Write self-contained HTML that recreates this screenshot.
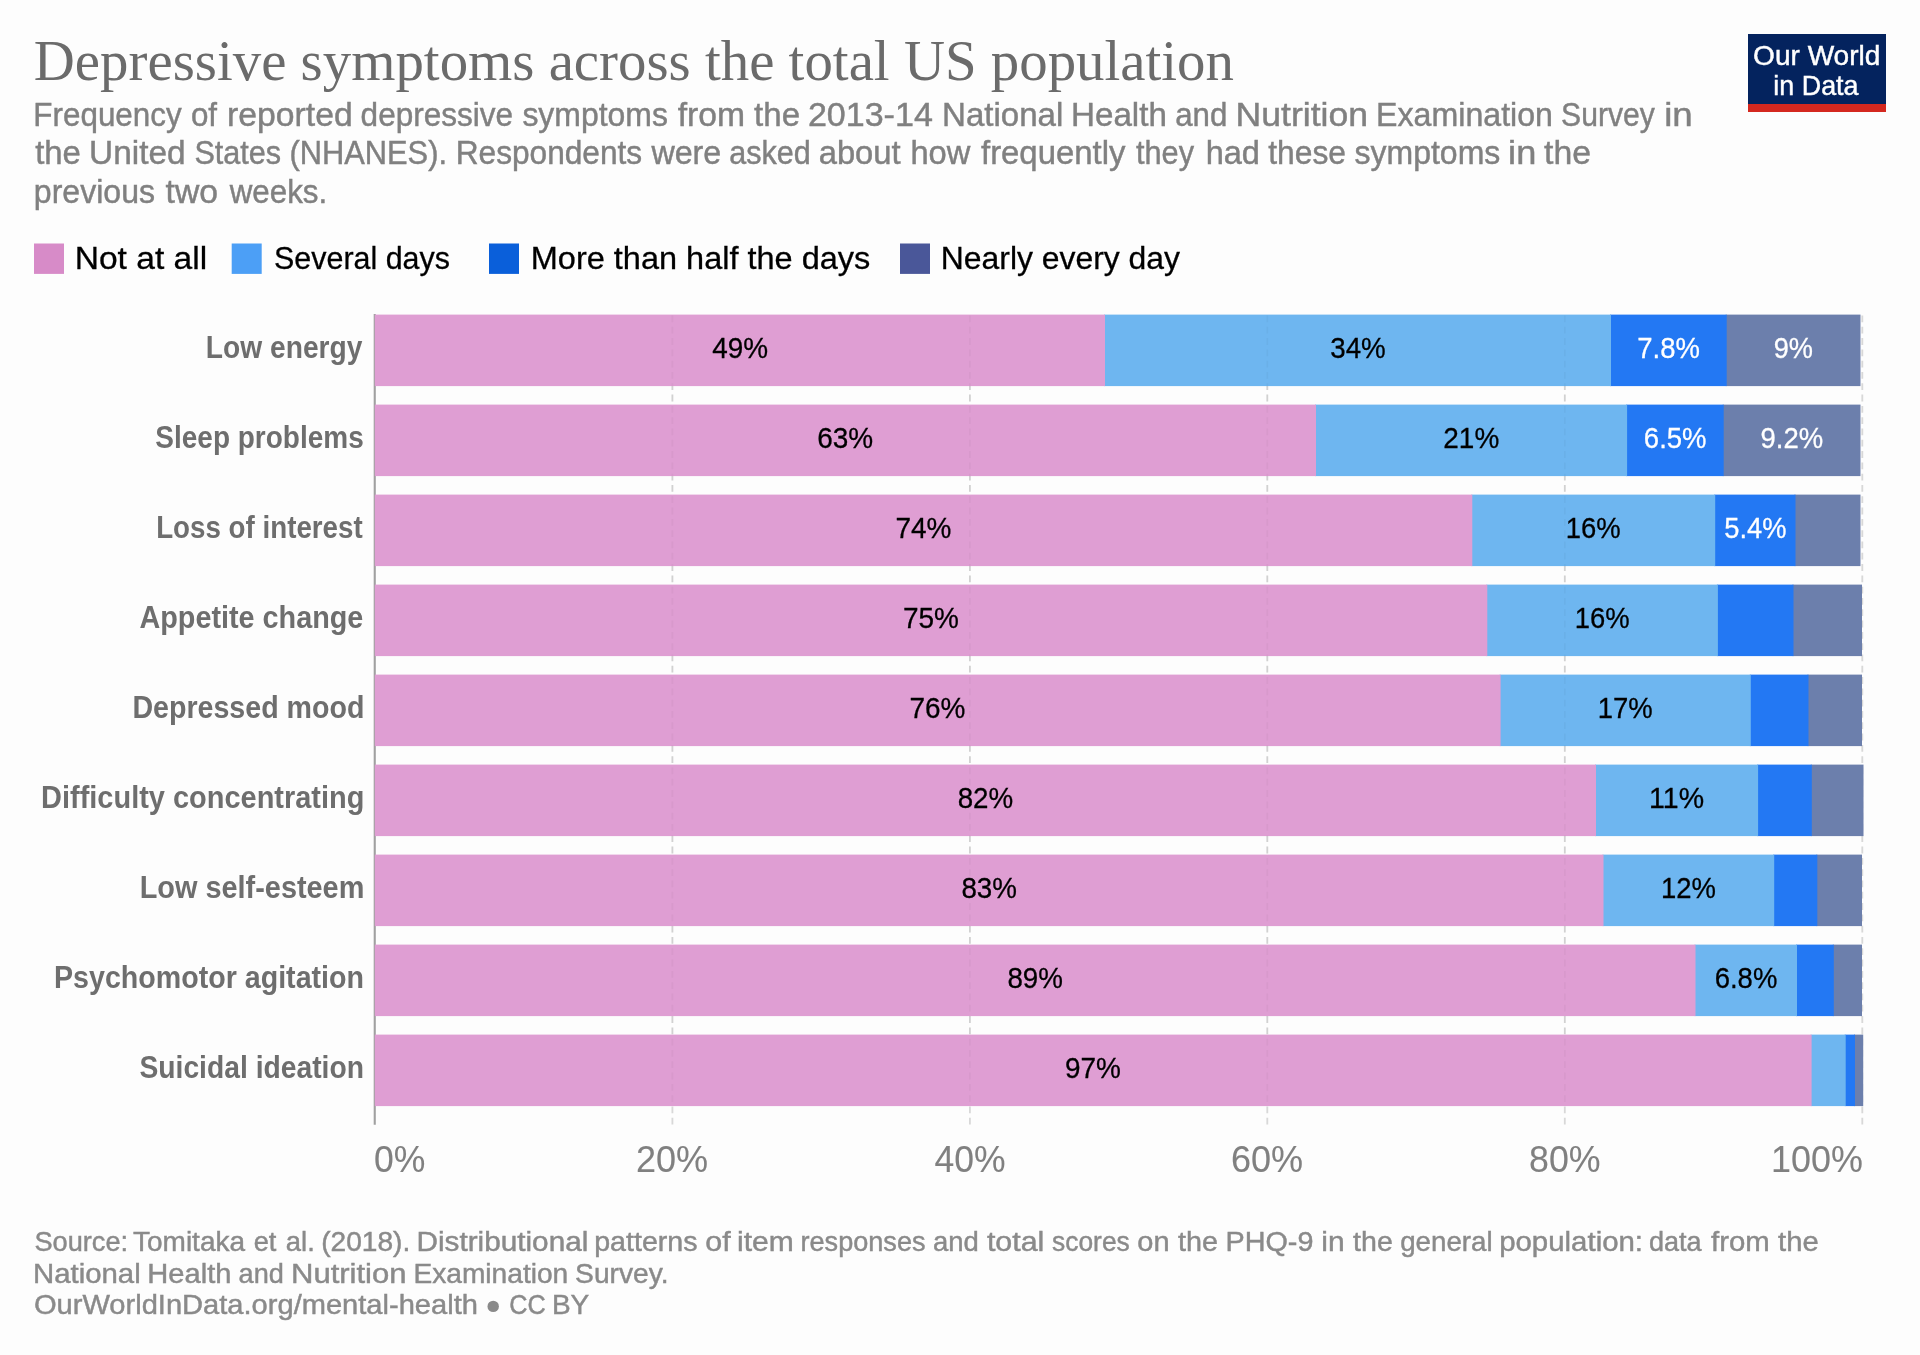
<!DOCTYPE html>
<html><head><meta charset="utf-8"><title>Depressive symptoms across the total US population</title>
<style>
html,body{margin:0;padding:0;background:#fdfdfd;}
body{width:1920px;height:1355px;overflow:hidden;font-family:"Liberation Sans",sans-serif;}
svg{display:block;will-change:transform;}
text{font-family:"Liberation Sans",sans-serif;}
.ttl{font-family:"Liberation Serif",serif;}
</style></head><body>
<svg width="1920" height="1355" viewBox="0 0 1920 1355">
<rect x="0" y="0" width="1920" height="1355" fill="#fdfdfd"/>
<rect x="1748" y="34" width="138" height="78" fill="#04235e"/>
<rect x="1748" y="104" width="138" height="8" fill="#d4281f"/>
<rect x="34" y="243.5" width="30" height="30.4" fill="#d78bc8"/>
<rect x="231.7" y="243.5" width="30" height="30.4" fill="#4c9ff6"/>
<rect x="489.0" y="243.5" width="30" height="30.4" fill="#0a5fda"/>
<rect x="900.0" y="243.5" width="30" height="30.4" fill="#4a5799"/>
<line x1="672.4" y1="315.5" x2="672.4" y2="1124.5" stroke="#d8d8d8" stroke-width="1.8" stroke-dasharray="6.78,4.52"/>
<line x1="969.9" y1="315.5" x2="969.9" y2="1124.5" stroke="#d8d8d8" stroke-width="1.8" stroke-dasharray="6.78,4.52"/>
<line x1="1267.3" y1="315.5" x2="1267.3" y2="1124.5" stroke="#d8d8d8" stroke-width="1.8" stroke-dasharray="6.78,4.52"/>
<line x1="1564.8" y1="315.5" x2="1564.8" y2="1124.5" stroke="#d8d8d8" stroke-width="1.8" stroke-dasharray="6.78,4.52"/>
<line x1="1862.3" y1="315.5" x2="1862.3" y2="1124.5" stroke="#d8d8d8" stroke-width="1.8" stroke-dasharray="6.78,4.52"/>
<line x1="374.75" y1="314" x2="374.75" y2="1124.7" stroke="#a0a0a0" stroke-width="2.1"/>
<rect x="1725.7" y="314.6" width="134.8" height="71.5" fill="#6c7fac"/>
<rect x="1610.0" y="314.6" width="116.7" height="71.5" fill="#2378f3"/>
<rect x="1104.0" y="314.6" width="507.0" height="71.5" fill="#6eb6f0"/>
<rect x="374.8" y="314.6" width="730.2" height="71.5" fill="#df9ed3"/>
<rect x="1722.7" y="404.6" width="137.8" height="71.5" fill="#6c7fac"/>
<rect x="1626.1" y="404.6" width="97.6" height="71.5" fill="#2378f3"/>
<rect x="1315.0" y="404.6" width="312.1" height="71.5" fill="#6eb6f0"/>
<rect x="374.8" y="404.6" width="941.2" height="71.5" fill="#df9ed3"/>
<rect x="1794.5" y="494.6" width="66.0" height="71.5" fill="#6c7fac"/>
<rect x="1714.2" y="494.6" width="81.3" height="71.5" fill="#2378f3"/>
<rect x="1471.3" y="494.6" width="243.9" height="71.5" fill="#6eb6f0"/>
<rect x="374.8" y="494.6" width="1097.5" height="71.5" fill="#df9ed3"/>
<rect x="1792.5" y="584.6" width="69.5" height="71.5" fill="#6c7fac"/>
<rect x="1716.9" y="584.6" width="76.6" height="71.5" fill="#2378f3"/>
<rect x="1486.3" y="584.6" width="231.6" height="71.5" fill="#6eb6f0"/>
<rect x="374.8" y="584.6" width="1112.5" height="71.5" fill="#df9ed3"/>
<rect x="1807.5" y="674.6" width="54.5" height="71.5" fill="#6c7fac"/>
<rect x="1749.8" y="674.6" width="58.7" height="71.5" fill="#2378f3"/>
<rect x="1499.6" y="674.6" width="251.2" height="71.5" fill="#6eb6f0"/>
<rect x="374.8" y="674.6" width="1125.8" height="71.5" fill="#df9ed3"/>
<rect x="1810.8" y="764.6" width="52.7" height="71.5" fill="#6c7fac"/>
<rect x="1757.1" y="764.6" width="54.7" height="71.5" fill="#2378f3"/>
<rect x="1595.0" y="764.6" width="163.1" height="71.5" fill="#6eb6f0"/>
<rect x="374.8" y="764.6" width="1221.2" height="71.5" fill="#df9ed3"/>
<rect x="1816.3" y="854.6" width="45.7" height="71.5" fill="#6c7fac"/>
<rect x="1773.2" y="854.6" width="44.1" height="71.5" fill="#2378f3"/>
<rect x="1602.5" y="854.6" width="171.7" height="71.5" fill="#6eb6f0"/>
<rect x="374.8" y="854.6" width="1228.7" height="71.5" fill="#df9ed3"/>
<rect x="1832.8" y="944.6" width="29.2" height="71.5" fill="#6c7fac"/>
<rect x="1796.0" y="944.6" width="37.8" height="71.5" fill="#2378f3"/>
<rect x="1694.5" y="944.6" width="102.5" height="71.5" fill="#6eb6f0"/>
<rect x="374.8" y="944.6" width="1320.7" height="71.5" fill="#df9ed3"/>
<rect x="1854.0" y="1034.6" width="9.2" height="71.5" fill="#6c7fac"/>
<rect x="1844.7" y="1034.6" width="10.3" height="71.5" fill="#2378f3"/>
<rect x="1810.6" y="1034.6" width="35.1" height="71.5" fill="#6eb6f0"/>
<rect x="374.8" y="1034.6" width="1436.8" height="71.5" fill="#df9ed3"/>
<line x1="672.4" y1="315.5" x2="672.4" y2="1106" stroke="#000000" stroke-opacity="0.03" stroke-width="1.8" stroke-dasharray="6.78,4.52"/>
<line x1="969.9" y1="315.5" x2="969.9" y2="1106" stroke="#000000" stroke-opacity="0.03" stroke-width="1.8" stroke-dasharray="6.78,4.52"/>
<line x1="1267.3" y1="315.5" x2="1267.3" y2="1106" stroke="#000000" stroke-opacity="0.03" stroke-width="1.8" stroke-dasharray="6.78,4.52"/>
<line x1="1564.8" y1="315.5" x2="1564.8" y2="1106" stroke="#000000" stroke-opacity="0.03" stroke-width="1.8" stroke-dasharray="6.78,4.52"/>
<circle cx="493.2" cy="1306.4" r="5.7" fill="#8a8a8a"/>
<text x="33.81" y="79.6" font-size="56.4" fill="#6b6b6b" class="ttl" textLength="1200.19" lengthAdjust="spacingAndGlyphs">Depressive symptoms across the total US population</text>
<text x="33.35" y="125.8" font-size="32.8" fill="#808080" stroke="#808080" stroke-width="0.45" textLength="148.35" lengthAdjust="spacingAndGlyphs">Frequency</text>
<text x="190.92" y="125.8" font-size="32.8" fill="#808080" stroke="#808080" stroke-width="0.45" textLength="26.17" lengthAdjust="spacingAndGlyphs">of</text>
<text x="227.09" y="125.8" font-size="32.8" fill="#808080" stroke="#808080" stroke-width="0.45" textLength="125.60" lengthAdjust="spacingAndGlyphs">reported</text>
<text x="360.61" y="125.8" font-size="32.8" fill="#808080" stroke="#808080" stroke-width="0.45" textLength="152.46" lengthAdjust="spacingAndGlyphs">depressive</text>
<text x="522.40" y="125.8" font-size="32.8" fill="#808080" stroke="#808080" stroke-width="0.45" textLength="145.50" lengthAdjust="spacingAndGlyphs">symptoms</text>
<text x="677.70" y="125.8" font-size="32.8" fill="#808080" stroke="#808080" stroke-width="0.45" textLength="67.34" lengthAdjust="spacingAndGlyphs">from</text>
<text x="754.10" y="125.8" font-size="32.8" fill="#808080" stroke="#808080" stroke-width="0.45" textLength="45.94" lengthAdjust="spacingAndGlyphs">the</text>
<text x="807.90" y="125.8" font-size="32.8" fill="#808080" stroke="#808080" stroke-width="0.45" textLength="124.94" lengthAdjust="spacingAndGlyphs">2013-14</text>
<text x="942.02" y="125.8" font-size="32.8" fill="#808080" stroke="#808080" stroke-width="0.45" textLength="121.36" lengthAdjust="spacingAndGlyphs">National</text>
<text x="1071.01" y="125.8" font-size="32.8" fill="#808080" stroke="#808080" stroke-width="0.45" textLength="95.85" lengthAdjust="spacingAndGlyphs">Health</text>
<text x="1175.22" y="125.8" font-size="32.8" fill="#808080" stroke="#808080" stroke-width="0.45" textLength="52.13" lengthAdjust="spacingAndGlyphs">and</text>
<text x="1235.52" y="125.8" font-size="32.8" fill="#808080" stroke="#808080" stroke-width="0.45" textLength="132.48" lengthAdjust="spacingAndGlyphs">Nutrition</text>
<text x="1376.09" y="125.8" font-size="32.8" fill="#808080" stroke="#808080" stroke-width="0.45" textLength="176.92" lengthAdjust="spacingAndGlyphs">Examination</text>
<text x="1561.06" y="125.8" font-size="32.8" fill="#808080" stroke="#808080" stroke-width="0.45" textLength="93.74" lengthAdjust="spacingAndGlyphs">Survey</text>
<text x="1664.21" y="125.8" font-size="32.8" fill="#808080" stroke="#808080" stroke-width="0.45" textLength="28.55" lengthAdjust="spacingAndGlyphs">in</text>
<text x="35.20" y="164.2" font-size="32.8" fill="#808080" stroke="#808080" stroke-width="0.45" textLength="45.73" lengthAdjust="spacingAndGlyphs">the</text>
<text x="89.11" y="164.2" font-size="32.8" fill="#808080" stroke="#808080" stroke-width="0.45" textLength="96.46" lengthAdjust="spacingAndGlyphs">United</text>
<text x="194.44" y="164.2" font-size="32.8" fill="#808080" stroke="#808080" stroke-width="0.45" textLength="86.71" lengthAdjust="spacingAndGlyphs">States</text>
<text x="289.56" y="164.2" font-size="32.8" fill="#808080" stroke="#808080" stroke-width="0.45" textLength="157.43" lengthAdjust="spacingAndGlyphs">(NHANES).</text>
<text x="455.73" y="164.2" font-size="32.8" fill="#808080" stroke="#808080" stroke-width="0.45" textLength="186.46" lengthAdjust="spacingAndGlyphs">Respondents</text>
<text x="651.40" y="164.2" font-size="32.8" fill="#808080" stroke="#808080" stroke-width="0.45" textLength="69.90" lengthAdjust="spacingAndGlyphs">were</text>
<text x="729.25" y="164.2" font-size="32.8" fill="#808080" stroke="#808080" stroke-width="0.45" textLength="81.47" lengthAdjust="spacingAndGlyphs">asked</text>
<text x="818.68" y="164.2" font-size="32.8" fill="#808080" stroke="#808080" stroke-width="0.45" textLength="82.01" lengthAdjust="spacingAndGlyphs">about</text>
<text x="910.46" y="164.2" font-size="32.8" fill="#808080" stroke="#808080" stroke-width="0.45" textLength="59.94" lengthAdjust="spacingAndGlyphs">how</text>
<text x="981.00" y="164.2" font-size="32.8" fill="#808080" stroke="#808080" stroke-width="0.45" textLength="144.40" lengthAdjust="spacingAndGlyphs">frequently</text>
<text x="1136.00" y="164.2" font-size="32.8" fill="#808080" stroke="#808080" stroke-width="0.45" textLength="58.00" lengthAdjust="spacingAndGlyphs">they</text>
<text x="1205.67" y="164.2" font-size="32.8" fill="#808080" stroke="#808080" stroke-width="0.45" textLength="54.26" lengthAdjust="spacingAndGlyphs">had</text>
<text x="1268.30" y="164.2" font-size="32.8" fill="#808080" stroke="#808080" stroke-width="0.45" textLength="77.69" lengthAdjust="spacingAndGlyphs">these</text>
<text x="1354.50" y="164.2" font-size="32.8" fill="#808080" stroke="#808080" stroke-width="0.45" textLength="145.80" lengthAdjust="spacingAndGlyphs">symptoms</text>
<text x="1508.14" y="164.2" font-size="32.8" fill="#808080" stroke="#808080" stroke-width="0.45" textLength="28.20" lengthAdjust="spacingAndGlyphs">in</text>
<text x="1544.00" y="164.2" font-size="32.8" fill="#808080" stroke="#808080" stroke-width="0.45" textLength="46.97" lengthAdjust="spacingAndGlyphs">the</text>
<text x="33.80" y="203.3" font-size="32.8" fill="#808080" stroke="#808080" stroke-width="0.45" textLength="121.21" lengthAdjust="spacingAndGlyphs">previous</text>
<text x="165.60" y="203.3" font-size="32.8" fill="#808080" stroke="#808080" stroke-width="0.45" textLength="52.47" lengthAdjust="spacingAndGlyphs">two</text>
<text x="229.69" y="203.3" font-size="32.8" fill="#808080" stroke="#808080" stroke-width="0.45" textLength="97.54" lengthAdjust="spacingAndGlyphs">weeks.</text>
<text x="1753.09" y="65.3" font-size="28.5" fill="#ffffff" stroke="#ffffff" stroke-width="0.45" textLength="127.29" lengthAdjust="spacingAndGlyphs">Our World</text>
<text x="1773.32" y="94.5" font-size="28.5" fill="#ffffff" stroke="#ffffff" stroke-width="0.45" textLength="85.21" lengthAdjust="spacingAndGlyphs">in Data</text>
<text x="74.68" y="268.8" font-size="31.9" fill="#000000" stroke="#000000" stroke-width="0.3" textLength="132.54" lengthAdjust="spacingAndGlyphs">Not at all</text>
<text x="274.05" y="268.8" font-size="31.9" fill="#000000" stroke="#000000" stroke-width="0.3" textLength="175.90" lengthAdjust="spacingAndGlyphs">Several days</text>
<text x="530.76" y="268.8" font-size="31.9" fill="#000000" stroke="#000000" stroke-width="0.3" textLength="339.55" lengthAdjust="spacingAndGlyphs">More than half the days</text>
<text x="940.81" y="268.8" font-size="31.9" fill="#000000" stroke="#000000" stroke-width="0.3" textLength="239.19" lengthAdjust="spacingAndGlyphs">Nearly every day</text>
<text x="205.84" y="357.8" font-size="31" fill="#6e6e6e" font-weight="bold" textLength="156.58" lengthAdjust="spacingAndGlyphs">Low energy</text>
<text x="712.21" y="357.7" font-size="29.8" fill="#000000" stroke="#000000" stroke-width="0.3" textLength="55.87" lengthAdjust="spacingAndGlyphs">49%</text>
<text x="1330.23" y="357.7" font-size="29.8" fill="#000000" stroke="#000000" stroke-width="0.3" textLength="55.49" lengthAdjust="spacingAndGlyphs">34%</text>
<text x="1637.31" y="357.7" font-size="29.8" fill="#ffffff" stroke="#ffffff" stroke-width="0.3" textLength="62.61" lengthAdjust="spacingAndGlyphs">7.8%</text>
<text x="1773.73" y="357.7" font-size="29.8" fill="#ffffff" stroke="#ffffff" stroke-width="0.3" textLength="39.28" lengthAdjust="spacingAndGlyphs">9%</text>
<text x="155.36" y="447.8" font-size="31" fill="#6e6e6e" font-weight="bold" textLength="208.37" lengthAdjust="spacingAndGlyphs">Sleep problems</text>
<text x="817.24" y="447.7" font-size="29.8" fill="#000000" stroke="#000000" stroke-width="0.3" textLength="55.94" lengthAdjust="spacingAndGlyphs">63%</text>
<text x="1443.34" y="447.7" font-size="29.8" fill="#000000" stroke="#000000" stroke-width="0.3" textLength="55.94" lengthAdjust="spacingAndGlyphs">21%</text>
<text x="1643.86" y="447.7" font-size="29.8" fill="#ffffff" stroke="#ffffff" stroke-width="0.3" textLength="62.61" lengthAdjust="spacingAndGlyphs">6.5%</text>
<text x="1760.56" y="447.7" font-size="29.8" fill="#ffffff" stroke="#ffffff" stroke-width="0.3" textLength="62.61" lengthAdjust="spacingAndGlyphs">9.2%</text>
<text x="156.17" y="537.8" font-size="31" fill="#6e6e6e" font-weight="bold" textLength="206.57" lengthAdjust="spacingAndGlyphs">Loss of interest</text>
<text x="895.39" y="537.7" font-size="29.8" fill="#000000" stroke="#000000" stroke-width="0.3" textLength="55.94" lengthAdjust="spacingAndGlyphs">74%</text>
<text x="1565.83" y="537.7" font-size="29.8" fill="#000000" stroke="#000000" stroke-width="0.3" textLength="54.93" lengthAdjust="spacingAndGlyphs">16%</text>
<text x="1724.25" y="537.7" font-size="29.8" fill="#ffffff" stroke="#ffffff" stroke-width="0.3" textLength="62.16" lengthAdjust="spacingAndGlyphs">5.4%</text>
<text x="139.45" y="627.8" font-size="31" fill="#6e6e6e" font-weight="bold" textLength="223.87" lengthAdjust="spacingAndGlyphs">Appetite change</text>
<text x="902.89" y="627.7" font-size="29.8" fill="#000000" stroke="#000000" stroke-width="0.3" textLength="55.94" lengthAdjust="spacingAndGlyphs">75%</text>
<text x="1574.68" y="627.7" font-size="29.8" fill="#000000" stroke="#000000" stroke-width="0.3" textLength="54.93" lengthAdjust="spacingAndGlyphs">16%</text>
<text x="132.41" y="717.8" font-size="31" fill="#6e6e6e" font-weight="bold" textLength="232.02" lengthAdjust="spacingAndGlyphs">Depressed mood</text>
<text x="909.54" y="717.7" font-size="29.8" fill="#000000" stroke="#000000" stroke-width="0.3" textLength="55.94" lengthAdjust="spacingAndGlyphs">76%</text>
<text x="1597.78" y="717.7" font-size="29.8" fill="#000000" stroke="#000000" stroke-width="0.3" textLength="54.93" lengthAdjust="spacingAndGlyphs">17%</text>
<text x="41.09" y="807.8" font-size="31" fill="#6e6e6e" font-weight="bold" textLength="323.36" lengthAdjust="spacingAndGlyphs">Difficulty concentrating</text>
<text x="957.68" y="807.7" font-size="29.8" fill="#000000" stroke="#000000" stroke-width="0.3" textLength="55.49" lengthAdjust="spacingAndGlyphs">82%</text>
<text x="1649.07" y="807.7" font-size="29.8" fill="#000000" stroke="#000000" stroke-width="0.3" textLength="55.04" lengthAdjust="spacingAndGlyphs">11%</text>
<text x="139.70" y="897.8" font-size="31" fill="#6e6e6e" font-weight="bold" textLength="224.67" lengthAdjust="spacingAndGlyphs">Low self-esteem</text>
<text x="961.43" y="897.7" font-size="29.8" fill="#000000" stroke="#000000" stroke-width="0.3" textLength="55.49" lengthAdjust="spacingAndGlyphs">83%</text>
<text x="1660.93" y="897.7" font-size="29.8" fill="#000000" stroke="#000000" stroke-width="0.3" textLength="54.93" lengthAdjust="spacingAndGlyphs">12%</text>
<text x="54.01" y="987.8" font-size="31" fill="#6e6e6e" font-weight="bold" textLength="309.97" lengthAdjust="spacingAndGlyphs">Psychomotor agitation</text>
<text x="1007.43" y="987.7" font-size="29.8" fill="#000000" stroke="#000000" stroke-width="0.3" textLength="55.49" lengthAdjust="spacingAndGlyphs">89%</text>
<text x="1714.71" y="987.7" font-size="29.8" fill="#000000" stroke="#000000" stroke-width="0.3" textLength="62.61" lengthAdjust="spacingAndGlyphs">6.8%</text>
<text x="139.46" y="1077.8" font-size="31" fill="#6e6e6e" font-weight="bold" textLength="224.51" lengthAdjust="spacingAndGlyphs">Suicidal ideation</text>
<text x="1065.04" y="1077.7" font-size="29.8" fill="#000000" stroke="#000000" stroke-width="0.3" textLength="55.94" lengthAdjust="spacingAndGlyphs">97%</text>
<text x="373.89" y="1172.3" font-size="37.5" fill="#808080" stroke="#808080" stroke-width="0.1" textLength="51.37" lengthAdjust="spacingAndGlyphs">0%</text>
<text x="635.99" y="1172.3" font-size="37.5" fill="#808080" stroke="#808080" stroke-width="0.1" textLength="72.16" lengthAdjust="spacingAndGlyphs">20%</text>
<text x="934.61" y="1172.3" font-size="37.5" fill="#808080" stroke="#808080" stroke-width="0.1" textLength="71.01" lengthAdjust="spacingAndGlyphs">40%</text>
<text x="1230.95" y="1172.3" font-size="37.5" fill="#808080" stroke="#808080" stroke-width="0.1" textLength="72.16" lengthAdjust="spacingAndGlyphs">60%</text>
<text x="1529.00" y="1172.3" font-size="37.5" fill="#808080" stroke="#808080" stroke-width="0.1" textLength="71.58" lengthAdjust="spacingAndGlyphs">80%</text>
<text x="1771.06" y="1172.3" font-size="37.5" fill="#808080" stroke="#808080" stroke-width="0.1" textLength="91.81" lengthAdjust="spacingAndGlyphs">100%</text>
<text x="34.45" y="1251.3" font-size="27.5" fill="#8a8a8a" stroke="#8a8a8a" stroke-width="0.45" textLength="93.71" lengthAdjust="spacingAndGlyphs">Source:</text>
<text x="133.06" y="1251.3" font-size="27.5" fill="#8a8a8a" stroke="#8a8a8a" stroke-width="0.45" textLength="111.96" lengthAdjust="spacingAndGlyphs">Tomitaka</text>
<text x="253.75" y="1251.3" font-size="27.5" fill="#8a8a8a" stroke="#8a8a8a" stroke-width="0.45" textLength="22.66" lengthAdjust="spacingAndGlyphs">et</text>
<text x="285.84" y="1251.3" font-size="27.5" fill="#8a8a8a" stroke="#8a8a8a" stroke-width="0.45" textLength="28.93" lengthAdjust="spacingAndGlyphs">al.</text>
<text x="321.18" y="1251.3" font-size="27.5" fill="#8a8a8a" stroke="#8a8a8a" stroke-width="0.45" textLength="89.06" lengthAdjust="spacingAndGlyphs">(2018).</text>
<text x="416.48" y="1251.3" font-size="27.5" fill="#8a8a8a" stroke="#8a8a8a" stroke-width="0.45" textLength="171.88" lengthAdjust="spacingAndGlyphs">Distributional</text>
<text x="594.21" y="1251.3" font-size="27.5" fill="#8a8a8a" stroke="#8a8a8a" stroke-width="0.45" textLength="103.38" lengthAdjust="spacingAndGlyphs">patterns</text>
<text x="705.35" y="1251.3" font-size="27.5" fill="#8a8a8a" stroke="#8a8a8a" stroke-width="0.45" textLength="25.35" lengthAdjust="spacingAndGlyphs">of</text>
<text x="737.12" y="1251.3" font-size="27.5" fill="#8a8a8a" stroke="#8a8a8a" stroke-width="0.45" textLength="56.73" lengthAdjust="spacingAndGlyphs">item</text>
<text x="800.51" y="1251.3" font-size="27.5" fill="#8a8a8a" stroke="#8a8a8a" stroke-width="0.45" textLength="125.04" lengthAdjust="spacingAndGlyphs">responses</text>
<text x="932.94" y="1251.3" font-size="27.5" fill="#8a8a8a" stroke="#8a8a8a" stroke-width="0.45" textLength="45.80" lengthAdjust="spacingAndGlyphs">and</text>
<text x="986.90" y="1251.3" font-size="27.5" fill="#8a8a8a" stroke="#8a8a8a" stroke-width="0.45" textLength="57.40" lengthAdjust="spacingAndGlyphs">total</text>
<text x="1052.09" y="1251.3" font-size="27.5" fill="#8a8a8a" stroke="#8a8a8a" stroke-width="0.45" textLength="77.64" lengthAdjust="spacingAndGlyphs">scores</text>
<text x="1137.29" y="1251.3" font-size="27.5" fill="#8a8a8a" stroke="#8a8a8a" stroke-width="0.45" textLength="32.23" lengthAdjust="spacingAndGlyphs">on</text>
<text x="1178.10" y="1251.3" font-size="27.5" fill="#8a8a8a" stroke="#8a8a8a" stroke-width="0.45" textLength="39.97" lengthAdjust="spacingAndGlyphs">the</text>
<text x="1225.45" y="1251.3" font-size="27.5" fill="#8a8a8a" stroke="#8a8a8a" stroke-width="0.45" textLength="88.02" lengthAdjust="spacingAndGlyphs">PHQ-9</text>
<text x="1321.22" y="1251.3" font-size="27.5" fill="#8a8a8a" stroke="#8a8a8a" stroke-width="0.45" textLength="23.36" lengthAdjust="spacingAndGlyphs">in</text>
<text x="1353.10" y="1251.3" font-size="27.5" fill="#8a8a8a" stroke="#8a8a8a" stroke-width="0.45" textLength="39.66" lengthAdjust="spacingAndGlyphs">the</text>
<text x="1400.13" y="1251.3" font-size="27.5" fill="#8a8a8a" stroke="#8a8a8a" stroke-width="0.45" textLength="92.49" lengthAdjust="spacingAndGlyphs">general</text>
<text x="1499.16" y="1251.3" font-size="27.5" fill="#8a8a8a" stroke="#8a8a8a" stroke-width="0.45" textLength="143.89" lengthAdjust="spacingAndGlyphs">population:</text>
<text x="1648.96" y="1251.3" font-size="27.5" fill="#8a8a8a" stroke="#8a8a8a" stroke-width="0.45" textLength="52.57" lengthAdjust="spacingAndGlyphs">data</text>
<text x="1711.00" y="1251.3" font-size="27.5" fill="#8a8a8a" stroke="#8a8a8a" stroke-width="0.45" textLength="58.72" lengthAdjust="spacingAndGlyphs">from</text>
<text x="1778.10" y="1251.3" font-size="27.5" fill="#8a8a8a" stroke="#8a8a8a" stroke-width="0.45" textLength="40.58" lengthAdjust="spacingAndGlyphs">the</text>
<text x="33.01" y="1282.5" font-size="27.5" fill="#8a8a8a" stroke="#8a8a8a" stroke-width="0.45" textLength="107.73" lengthAdjust="spacingAndGlyphs">National</text>
<text x="147.33" y="1282.5" font-size="27.5" fill="#8a8a8a" stroke="#8a8a8a" stroke-width="0.45" textLength="84.11" lengthAdjust="spacingAndGlyphs">Health</text>
<text x="238.55" y="1282.5" font-size="27.5" fill="#8a8a8a" stroke="#8a8a8a" stroke-width="0.45" textLength="45.27" lengthAdjust="spacingAndGlyphs">and</text>
<text x="290.98" y="1282.5" font-size="27.5" fill="#8a8a8a" stroke="#8a8a8a" stroke-width="0.45" textLength="115.57" lengthAdjust="spacingAndGlyphs">Nutrition</text>
<text x="413.40" y="1282.5" font-size="27.5" fill="#8a8a8a" stroke="#8a8a8a" stroke-width="0.45" textLength="154.88" lengthAdjust="spacingAndGlyphs">Examination</text>
<text x="575.12" y="1282.5" font-size="27.5" fill="#8a8a8a" stroke="#8a8a8a" stroke-width="0.45" textLength="93.43" lengthAdjust="spacingAndGlyphs">Survey.</text>
<text x="33.94" y="1313.8" font-size="27.5" fill="#8a8a8a" stroke="#8a8a8a" stroke-width="0.45" textLength="444.00" lengthAdjust="spacingAndGlyphs">OurWorldInData.org/mental-health</text>
<text x="509.22" y="1313.8" font-size="27.5" fill="#8a8a8a" stroke="#8a8a8a" stroke-width="0.45" textLength="36.46" lengthAdjust="spacingAndGlyphs">CC</text>
<text x="551.91" y="1313.8" font-size="27.5" fill="#8a8a8a" stroke="#8a8a8a" stroke-width="0.45" textLength="37.39" lengthAdjust="spacingAndGlyphs">BY</text>
</svg></body></html>
